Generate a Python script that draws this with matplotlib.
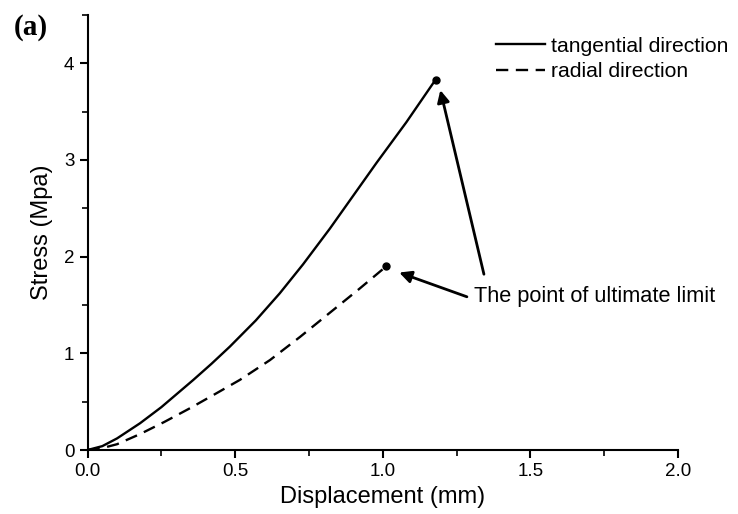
import matplotlib
matplotlib.use("Agg")
import matplotlib.pyplot as plt
from matplotlib.ticker import MultipleLocator

plt.rcParams['font.family'] = ['Liberation Sans', 'DejaVu Sans']

tang_x = [0.0, 0.05, 0.1, 0.178, 0.25, 0.358, 0.42, 0.482, 0.57, 0.651, 0.73, 0.821, 0.90, 0.979, 1.08, 1.179]
tang_y = [0.0, 0.04, 0.12, 0.277, 0.443, 0.724, 0.892, 1.069, 1.34, 1.62, 1.92, 2.29, 2.63, 2.97, 3.39, 3.83]
rad_x = [0.0, 0.05, 0.1, 0.178, 0.26, 0.347, 0.43, 0.516, 0.618, 0.72, 0.821, 0.92, 1.012]
rad_y = [0.0, 0.02, 0.06, 0.165, 0.29, 0.432, 0.575, 0.725, 0.93, 1.17, 1.42, 1.665, 1.90]

fig = plt.figure(figsize=(7.38, 5.14), dpi=100)
ax = fig.add_axes([0.1186, 0.1245, 0.80, 0.8465])

ax.plot(tang_x, tang_y, color='black', lw=1.7, label='tangential direction')
ax.plot(rad_x, rad_y, color='black', lw=1.7, dashes=(5.2, 3.2), label='radial direction')
ax.plot([tang_x[-1]], [tang_y[-1]], 'o', color='black', ms=5)
ax.plot([rad_x[-1]], [rad_y[-1]], 'o', color='black', ms=5)

ax.set_xlim(0, 2.0)
ax.set_ylim(0, 4.5)
ax.xaxis.set_major_locator(MultipleLocator(0.5))
ax.xaxis.set_minor_locator(MultipleLocator(0.25))
ax.yaxis.set_major_locator(MultipleLocator(1))
ax.yaxis.set_minor_locator(MultipleLocator(0.5))
ax.xaxis.set_major_formatter(matplotlib.ticker.FormatStrFormatter('%.1f'))
for s in ['top', 'right']:
    ax.spines[s].set_visible(False)
for s in ['left', 'bottom']:
    ax.spines[s].set_linewidth(1.5)
ax.tick_params(which='major', direction='out', length=6, width=1.5, labelsize=13.5)
ax.tick_params(which='minor', direction='out', length=4, width=1.2)

ax.set_xlabel('Displacement (mm)', fontsize=17, labelpad=4)
ax.set_ylabel('Stress (Mpa)', fontsize=17, labelpad=8)

ax.annotate('', xy=(1.193, 3.75), xytext=(1.345, 1.79),
            arrowprops=dict(arrowstyle='-|>', color='black', lw=2, mutation_scale=18))
ax.annotate('', xy=(1.047, 1.845), xytext=(1.294, 1.575),
            arrowprops=dict(arrowstyle='-|>', color='black', lw=2, mutation_scale=18))
ax.text(1.308, 1.585, 'The point of ultimate limit', fontsize=15.7, va='center', ha='left')

leg = ax.legend(loc='upper right', bbox_to_anchor=(1.007, 0.957),
                bbox_transform=fig.transFigure, frameon=False,
                fontsize=15.2, handlelength=2.3, handletextpad=0.3, labelspacing=0.3,
                borderpad=0.2)

fig.text(0.018, 0.947, '(a)', fontsize=21, fontweight='bold',
         family=['Liberation Serif', 'DejaVu Serif'], va='center')

fig.savefig('out.png', dpi=100)
